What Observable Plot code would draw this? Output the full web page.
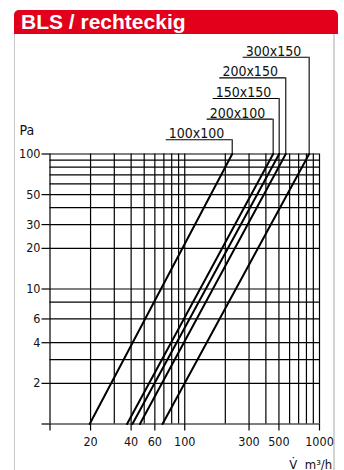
<!DOCTYPE html>
<html><head><meta charset="utf-8">
<script src="https://cdn.jsdelivr.net/npm/d3@7"></script>
<script src="https://cdn.jsdelivr.net/npm/@observablehq/plot@0.6"></script>
<style>
html,body{margin:0;padding:0;background:#fff;}
#wrap{position:relative;width:344px;height:470px;overflow:hidden;}
#card{position:absolute;left:13.5px;top:9.5px;width:321px;height:480px;border-left:1.5px solid #c9c9c9;border-right:2px solid #d4d4d4;border-radius:5px 5px 0 0;box-sizing:border-box;}
#hdr{position:absolute;left:13.5px;top:9.5px;width:324px;height:24.5px;background:#e2001a;border-radius:5px 5px 0 0;color:#fff;font:bold 21px "Liberation Sans",Arial,sans-serif;line-height:24.5px;padding-left:7.5px;box-sizing:border-box;white-space:nowrap;}
#chart{position:absolute;left:0;top:0;}
</style></head>
<body>
<div id="wrap">
  <div id="card"></div>
  <div id="hdr">BLS / rechteckig</div>
  <div id="chart"></div>
</div>
<script>
// ---- data ----
const sizes = ["100x100", "200x100", "150x150", "200x150", "300x150"];
const flowAt1Pa = [19.7, 37.3, 40.9, 46.5, 68.4];      // m³/h at 1 Pa
const flowAt100Pa = [225, 453, 502, 562, 838];          // m³/h at 100 Pa
const pressureEnds = [1, 100];                          // Pa
const xGrid = [10, 20, 30, 40, 50, 60, 70, 80, 90, 100, 200, 300, 400, 500, 600, 700, 800, 900, 1000];
const yGrid = [1, 2, 3, 4, 6, 8, 10, 20, 30, 40, 50, 60, 70, 80, 90, 100];
const xTicks = [10, 20, 40, 60, 100, 300, 500, 1000];
const xTickLabels = ["", "20", "40", "60", "100", "300", "500", "1000"];
const yTicks = [1, 2, 4, 6, 10, 20, 30, 50, 100];
const yTickLabels = ["", "2", "4", "6", "10", "20", "30", "50", "100"];
const yAxisTitle = "Pa";
const xAxisTitle = "V\u0307  m³/h";

// ---- layout ----
const W = 344, H = 470;
const mL = 49.5, mR = 25, mT = 153.5, mB = 46.5;
const pxPerDecadeX = (W - mL - mR) / 2;
const pxPerDecadeY = (H - mT - mB) / 2;
const labelFirstRise = 14.2, labelStep = 20.65, underlineLen = 66;
const yTickLen = 8, xTickLen = 7;

const curvePoints = sizes.flatMap((s, i) => [
  {size: s, q: flowAt1Pa[i], p: pressureEnds[0]},
  {size: s, q: flowAt100Pa[i], p: pressureEnds[1]}
]);
const labels = sizes.map((s, i) => ({
  size: s,
  q: flowAt100Pa[i],
  level: pressureEnds[1] * Math.pow(10, (labelFirstRise + labelStep * i) / pxPerDecadeY),
  left: flowAt100Pa[i] / Math.pow(10, underlineLen / pxPerDecadeX)
}));
const yTickRows = yTicks.map((v, i) => ({v, label: yTickLabels[i]}));
const xTickRows = xTicks.map((v, i) => ({v, label: xTickLabels[i]}));
const xMin = 10, yMin = 1;
const yTickStart = xMin / Math.pow(10, yTickLen / pxPerDecadeX);
const xTickEnd = yMin / Math.pow(10, xTickLen / pxPerDecadeY);

const fam = '"DejaVu Sans Condensed","DejaVu Sans",sans-serif';
const lineCol = "#000";

const chart = Plot.plot({
  width: W, height: H,
  marginLeft: mL, marginRight: mR, marginTop: mT, marginBottom: mB,
  style: {fontFamily: fam, background: "transparent", color: "#111", overflow: "visible"},
  x: {type: "log", domain: [10, 1000], axis: null},
  y: {type: "log", domain: [1, 100], axis: null},
  marks: [
    Plot.ruleX(xGrid, {stroke: lineCol, strokeWidth: 1.2}),
    Plot.ruleY(yGrid, {stroke: lineCol, strokeWidth: 1.2}),
    // x axis ticks and labels
    Plot.ruleX(xTickRows, {x: "v", y1: yMin, y2: xTickEnd, stroke: lineCol, strokeWidth: 1.2, clip: false}),
    Plot.text(xTickRows, {x: "v", y: yMin, text: "label", lineAnchor: "top", dy: 13, fontSize: 12.5, fill: "#111", clip: false}),
    // y axis ticks and labels
    Plot.ruleY(yTickRows, {y: "v", x1: yTickStart, x2: xMin, stroke: lineCol, strokeWidth: 1.2, clip: false}),
    Plot.text(yTickRows, {x: xMin, y: "v", text: "label", textAnchor: "end", dx: -9.5, fontSize: 12.5, fill: "#111", clip: false}),
    // curves
    Plot.line(curvePoints, {x: "q", y: "p", z: "size", stroke: lineCol, strokeWidth: 2}),
    // labels with leaders
    Plot.ruleX(labels, {x: "q", y1: pressureEnds[1], y2: "level", stroke: lineCol, strokeWidth: 1.1, clip: false}),
    Plot.ruleY(labels, {y: "level", x1: "left", x2: "q", stroke: lineCol, strokeWidth: 1.1, clip: false}),
    Plot.text(labels, {x: "left", y: "level", text: "size", textAnchor: "start", lineAnchor: "bottom", dx: 2.6, dy: -1.5, fontSize: 14, fill: "#111", clip: false}),
    Plot.text([yAxisTitle], {frameAnchor: "top-left", text: d => d, textAnchor: "start", dx: -30.5, dy: -28.5, fontSize: 14, fill: "#111"}),
    Plot.text([xAxisTitle], {frameAnchor: "bottom-right", text: d => d, textAnchor: "end", dx: 12.7, dy: 44.5, fontSize: 13, fill: "#111"})
  ]
});
document.getElementById("chart").appendChild(chart);
</script>
</body></html>
